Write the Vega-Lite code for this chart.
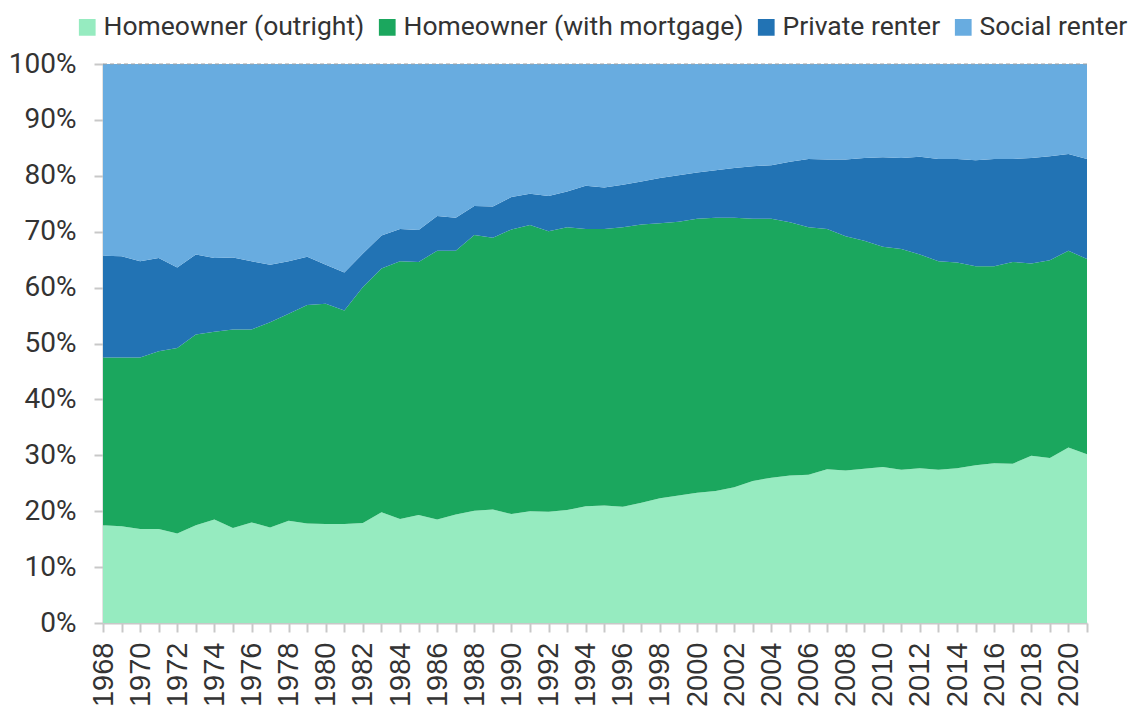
{
  "$schema": "https://vega.github.io/schema/vega-lite/v6.json",
  "width": 984,
  "height": 559,
  "autosize": {"type": "none"},
  "padding": {"left": 103, "top": 64, "right": 48, "bottom": 84},
  "background": "white",
  "config": {
    "view": {"stroke": null},
    "font": "Roboto"
  },
  "layer": [
    {
      "data": {
        "values": [
          {"year": 1968, "tenure": "Homeowner (outright)", "share": 17.5},
          {"year": 1968, "tenure": "Homeowner (with mortgage)", "share": 30.0},
          {"year": 1968, "tenure": "Private renter", "share": 18.2},
          {"year": 1968, "tenure": "Social renter", "share": 34.3},
          {"year": 1969, "tenure": "Homeowner (outright)", "share": 17.3},
          {"year": 1969, "tenure": "Homeowner (with mortgage)", "share": 30.2},
          {"year": 1969, "tenure": "Private renter", "share": 18.1},
          {"year": 1969, "tenure": "Social renter", "share": 34.4},
          {"year": 1970, "tenure": "Homeowner (outright)", "share": 16.8},
          {"year": 1970, "tenure": "Homeowner (with mortgage)", "share": 30.7},
          {"year": 1970, "tenure": "Private renter", "share": 17.2},
          {"year": 1970, "tenure": "Social renter", "share": 35.3},
          {"year": 1971, "tenure": "Homeowner (outright)", "share": 16.8},
          {"year": 1971, "tenure": "Homeowner (with mortgage)", "share": 31.8},
          {"year": 1971, "tenure": "Private renter", "share": 16.7},
          {"year": 1971, "tenure": "Social renter", "share": 34.7},
          {"year": 1972, "tenure": "Homeowner (outright)", "share": 16.0},
          {"year": 1972, "tenure": "Homeowner (with mortgage)", "share": 33.2},
          {"year": 1972, "tenure": "Private renter", "share": 14.4},
          {"year": 1972, "tenure": "Social renter", "share": 36.4},
          {"year": 1973, "tenure": "Homeowner (outright)", "share": 17.5},
          {"year": 1973, "tenure": "Homeowner (with mortgage)", "share": 34.1},
          {"year": 1973, "tenure": "Private renter", "share": 14.3},
          {"year": 1973, "tenure": "Social renter", "share": 34.1},
          {"year": 1974, "tenure": "Homeowner (outright)", "share": 18.5},
          {"year": 1974, "tenure": "Homeowner (with mortgage)", "share": 33.6},
          {"year": 1974, "tenure": "Private renter", "share": 13.2},
          {"year": 1974, "tenure": "Social renter", "share": 34.7},
          {"year": 1975, "tenure": "Homeowner (outright)", "share": 17.0},
          {"year": 1975, "tenure": "Homeowner (with mortgage)", "share": 35.5},
          {"year": 1975, "tenure": "Private renter", "share": 12.9},
          {"year": 1975, "tenure": "Social renter", "share": 34.6},
          {"year": 1976, "tenure": "Homeowner (outright)", "share": 18.0},
          {"year": 1976, "tenure": "Homeowner (with mortgage)", "share": 34.5},
          {"year": 1976, "tenure": "Private renter", "share": 12.2},
          {"year": 1976, "tenure": "Social renter", "share": 35.3},
          {"year": 1977, "tenure": "Homeowner (outright)", "share": 17.1},
          {"year": 1977, "tenure": "Homeowner (with mortgage)", "share": 36.7},
          {"year": 1977, "tenure": "Private renter", "share": 10.3},
          {"year": 1977, "tenure": "Social renter", "share": 35.9},
          {"year": 1978, "tenure": "Homeowner (outright)", "share": 18.3},
          {"year": 1978, "tenure": "Homeowner (with mortgage)", "share": 37.0},
          {"year": 1978, "tenure": "Private renter", "share": 9.4},
          {"year": 1978, "tenure": "Social renter", "share": 35.3},
          {"year": 1979, "tenure": "Homeowner (outright)", "share": 17.8},
          {"year": 1979, "tenure": "Homeowner (with mortgage)", "share": 39.1},
          {"year": 1979, "tenure": "Private renter", "share": 8.6},
          {"year": 1979, "tenure": "Social renter", "share": 34.5},
          {"year": 1980, "tenure": "Homeowner (outright)", "share": 17.7},
          {"year": 1980, "tenure": "Homeowner (with mortgage)", "share": 39.4},
          {"year": 1980, "tenure": "Private renter", "share": 7.0},
          {"year": 1980, "tenure": "Social renter", "share": 35.9},
          {"year": 1981, "tenure": "Homeowner (outright)", "share": 17.7},
          {"year": 1981, "tenure": "Homeowner (with mortgage)", "share": 38.2},
          {"year": 1981, "tenure": "Private renter", "share": 6.8},
          {"year": 1981, "tenure": "Social renter", "share": 37.3},
          {"year": 1982, "tenure": "Homeowner (outright)", "share": 17.9},
          {"year": 1982, "tenure": "Homeowner (with mortgage)", "share": 42.2},
          {"year": 1982, "tenure": "Private renter", "share": 6.0},
          {"year": 1982, "tenure": "Social renter", "share": 33.9},
          {"year": 1983, "tenure": "Homeowner (outright)", "share": 19.8},
          {"year": 1983, "tenure": "Homeowner (with mortgage)", "share": 43.6},
          {"year": 1983, "tenure": "Private renter", "share": 5.9},
          {"year": 1983, "tenure": "Social renter", "share": 30.7},
          {"year": 1984, "tenure": "Homeowner (outright)", "share": 18.6},
          {"year": 1984, "tenure": "Homeowner (with mortgage)", "share": 46.1},
          {"year": 1984, "tenure": "Private renter", "share": 5.8},
          {"year": 1984, "tenure": "Social renter", "share": 29.5},
          {"year": 1985, "tenure": "Homeowner (outright)", "share": 19.3},
          {"year": 1985, "tenure": "Homeowner (with mortgage)", "share": 45.3},
          {"year": 1985, "tenure": "Private renter", "share": 5.7},
          {"year": 1985, "tenure": "Social renter", "share": 29.7},
          {"year": 1986, "tenure": "Homeowner (outright)", "share": 18.5},
          {"year": 1986, "tenure": "Homeowner (with mortgage)", "share": 48.1},
          {"year": 1986, "tenure": "Private renter", "share": 6.2},
          {"year": 1986, "tenure": "Social renter", "share": 27.2},
          {"year": 1987, "tenure": "Homeowner (outright)", "share": 19.4},
          {"year": 1987, "tenure": "Homeowner (with mortgage)", "share": 47.2},
          {"year": 1987, "tenure": "Private renter", "share": 5.9},
          {"year": 1987, "tenure": "Social renter", "share": 27.5},
          {"year": 1988, "tenure": "Homeowner (outright)", "share": 20.1},
          {"year": 1988, "tenure": "Homeowner (with mortgage)", "share": 49.3},
          {"year": 1988, "tenure": "Private renter", "share": 5.2},
          {"year": 1988, "tenure": "Social renter", "share": 25.4},
          {"year": 1989, "tenure": "Homeowner (outright)", "share": 20.3},
          {"year": 1989, "tenure": "Homeowner (with mortgage)", "share": 48.6},
          {"year": 1989, "tenure": "Private renter", "share": 5.6},
          {"year": 1989, "tenure": "Social renter", "share": 25.5},
          {"year": 1990, "tenure": "Homeowner (outright)", "share": 19.5},
          {"year": 1990, "tenure": "Homeowner (with mortgage)", "share": 50.9},
          {"year": 1990, "tenure": "Private renter", "share": 5.8},
          {"year": 1990, "tenure": "Social renter", "share": 23.8},
          {"year": 1991, "tenure": "Homeowner (outright)", "share": 20.0},
          {"year": 1991, "tenure": "Homeowner (with mortgage)", "share": 51.2},
          {"year": 1991, "tenure": "Private renter", "share": 5.6},
          {"year": 1991, "tenure": "Social renter", "share": 23.2},
          {"year": 1992, "tenure": "Homeowner (outright)", "share": 19.9},
          {"year": 1992, "tenure": "Homeowner (with mortgage)", "share": 50.2},
          {"year": 1992, "tenure": "Private renter", "share": 6.3},
          {"year": 1992, "tenure": "Social renter", "share": 23.6},
          {"year": 1993, "tenure": "Homeowner (outright)", "share": 20.2},
          {"year": 1993, "tenure": "Homeowner (with mortgage)", "share": 50.6},
          {"year": 1993, "tenure": "Private renter", "share": 6.4},
          {"year": 1993, "tenure": "Social renter", "share": 22.8},
          {"year": 1994, "tenure": "Homeowner (outright)", "share": 20.9},
          {"year": 1994, "tenure": "Homeowner (with mortgage)", "share": 49.6},
          {"year": 1994, "tenure": "Private renter", "share": 7.7},
          {"year": 1994, "tenure": "Social renter", "share": 21.8},
          {"year": 1995, "tenure": "Homeowner (outright)", "share": 21.0},
          {"year": 1995, "tenure": "Homeowner (with mortgage)", "share": 49.5},
          {"year": 1995, "tenure": "Private renter", "share": 7.4},
          {"year": 1995, "tenure": "Social renter", "share": 22.1},
          {"year": 1996, "tenure": "Homeowner (outright)", "share": 20.8},
          {"year": 1996, "tenure": "Homeowner (with mortgage)", "share": 50.0},
          {"year": 1996, "tenure": "Private renter", "share": 7.6},
          {"year": 1996, "tenure": "Social renter", "share": 21.6},
          {"year": 1997, "tenure": "Homeowner (outright)", "share": 21.5},
          {"year": 1997, "tenure": "Homeowner (with mortgage)", "share": 49.8},
          {"year": 1997, "tenure": "Private renter", "share": 7.7},
          {"year": 1997, "tenure": "Social renter", "share": 21.0},
          {"year": 1998, "tenure": "Homeowner (outright)", "share": 22.3},
          {"year": 1998, "tenure": "Homeowner (with mortgage)", "share": 49.2},
          {"year": 1998, "tenure": "Private renter", "share": 8.1},
          {"year": 1998, "tenure": "Social renter", "share": 20.4},
          {"year": 1999, "tenure": "Homeowner (outright)", "share": 22.8},
          {"year": 1999, "tenure": "Homeowner (with mortgage)", "share": 49.0},
          {"year": 1999, "tenure": "Private renter", "share": 8.3},
          {"year": 1999, "tenure": "Social renter", "share": 19.9},
          {"year": 2000, "tenure": "Homeowner (outright)", "share": 23.3},
          {"year": 2000, "tenure": "Homeowner (with mortgage)", "share": 49.0},
          {"year": 2000, "tenure": "Private renter", "share": 8.3},
          {"year": 2000, "tenure": "Social renter", "share": 19.4},
          {"year": 2001, "tenure": "Homeowner (outright)", "share": 23.6},
          {"year": 2001, "tenure": "Homeowner (with mortgage)", "share": 48.9},
          {"year": 2001, "tenure": "Private renter", "share": 8.5},
          {"year": 2001, "tenure": "Social renter", "share": 19.0},
          {"year": 2002, "tenure": "Homeowner (outright)", "share": 24.3},
          {"year": 2002, "tenure": "Homeowner (with mortgage)", "share": 48.2},
          {"year": 2002, "tenure": "Private renter", "share": 8.9},
          {"year": 2002, "tenure": "Social renter", "share": 18.6},
          {"year": 2003, "tenure": "Homeowner (outright)", "share": 25.4},
          {"year": 2003, "tenure": "Homeowner (with mortgage)", "share": 46.9},
          {"year": 2003, "tenure": "Private renter", "share": 9.4},
          {"year": 2003, "tenure": "Social renter", "share": 18.3},
          {"year": 2004, "tenure": "Homeowner (outright)", "share": 26.0},
          {"year": 2004, "tenure": "Homeowner (with mortgage)", "share": 46.3},
          {"year": 2004, "tenure": "Private renter", "share": 9.6},
          {"year": 2004, "tenure": "Social renter", "share": 18.1},
          {"year": 2005, "tenure": "Homeowner (outright)", "share": 26.4},
          {"year": 2005, "tenure": "Homeowner (with mortgage)", "share": 45.3},
          {"year": 2005, "tenure": "Private renter", "share": 10.8},
          {"year": 2005, "tenure": "Social renter", "share": 17.5},
          {"year": 2006, "tenure": "Homeowner (outright)", "share": 26.5},
          {"year": 2006, "tenure": "Homeowner (with mortgage)", "share": 44.3},
          {"year": 2006, "tenure": "Private renter", "share": 12.2},
          {"year": 2006, "tenure": "Social renter", "share": 17.0},
          {"year": 2007, "tenure": "Homeowner (outright)", "share": 27.5},
          {"year": 2007, "tenure": "Homeowner (with mortgage)", "share": 43.0},
          {"year": 2007, "tenure": "Private renter", "share": 12.4},
          {"year": 2007, "tenure": "Social renter", "share": 17.1},
          {"year": 2008, "tenure": "Homeowner (outright)", "share": 27.3},
          {"year": 2008, "tenure": "Homeowner (with mortgage)", "share": 41.9},
          {"year": 2008, "tenure": "Private renter", "share": 13.7},
          {"year": 2008, "tenure": "Social renter", "share": 17.1},
          {"year": 2009, "tenure": "Homeowner (outright)", "share": 27.6},
          {"year": 2009, "tenure": "Homeowner (with mortgage)", "share": 40.8},
          {"year": 2009, "tenure": "Private renter", "share": 14.8},
          {"year": 2009, "tenure": "Social renter", "share": 16.8},
          {"year": 2010, "tenure": "Homeowner (outright)", "share": 27.9},
          {"year": 2010, "tenure": "Homeowner (with mortgage)", "share": 39.4},
          {"year": 2010, "tenure": "Private renter", "share": 16.0},
          {"year": 2010, "tenure": "Social renter", "share": 16.7},
          {"year": 2011, "tenure": "Homeowner (outright)", "share": 27.4},
          {"year": 2011, "tenure": "Homeowner (with mortgage)", "share": 39.5},
          {"year": 2011, "tenure": "Private renter", "share": 16.3},
          {"year": 2011, "tenure": "Social renter", "share": 16.8},
          {"year": 2012, "tenure": "Homeowner (outright)", "share": 27.7},
          {"year": 2012, "tenure": "Homeowner (with mortgage)", "share": 38.2},
          {"year": 2012, "tenure": "Private renter", "share": 17.5},
          {"year": 2012, "tenure": "Social renter", "share": 16.6},
          {"year": 2013, "tenure": "Homeowner (outright)", "share": 27.4},
          {"year": 2013, "tenure": "Homeowner (with mortgage)", "share": 37.3},
          {"year": 2013, "tenure": "Private renter", "share": 18.3},
          {"year": 2013, "tenure": "Social renter", "share": 17.0},
          {"year": 2014, "tenure": "Homeowner (outright)", "share": 27.7},
          {"year": 2014, "tenure": "Homeowner (with mortgage)", "share": 36.8},
          {"year": 2014, "tenure": "Private renter", "share": 18.5},
          {"year": 2014, "tenure": "Social renter", "share": 17.0},
          {"year": 2015, "tenure": "Homeowner (outright)", "share": 28.2},
          {"year": 2015, "tenure": "Homeowner (with mortgage)", "share": 35.6},
          {"year": 2015, "tenure": "Private renter", "share": 19.0},
          {"year": 2015, "tenure": "Social renter", "share": 17.2},
          {"year": 2016, "tenure": "Homeowner (outright)", "share": 28.6},
          {"year": 2016, "tenure": "Homeowner (with mortgage)", "share": 35.2},
          {"year": 2016, "tenure": "Private renter", "share": 19.2},
          {"year": 2016, "tenure": "Social renter", "share": 17.0},
          {"year": 2017, "tenure": "Homeowner (outright)", "share": 28.5},
          {"year": 2017, "tenure": "Homeowner (with mortgage)", "share": 36.1},
          {"year": 2017, "tenure": "Private renter", "share": 18.4},
          {"year": 2017, "tenure": "Social renter", "share": 17.0},
          {"year": 2018, "tenure": "Homeowner (outright)", "share": 29.9},
          {"year": 2018, "tenure": "Homeowner (with mortgage)", "share": 34.4},
          {"year": 2018, "tenure": "Private renter", "share": 18.9},
          {"year": 2018, "tenure": "Social renter", "share": 16.8},
          {"year": 2019, "tenure": "Homeowner (outright)", "share": 29.5},
          {"year": 2019, "tenure": "Homeowner (with mortgage)", "share": 35.4},
          {"year": 2019, "tenure": "Private renter", "share": 18.6},
          {"year": 2019, "tenure": "Social renter", "share": 16.5},
          {"year": 2020, "tenure": "Homeowner (outright)", "share": 31.4},
          {"year": 2020, "tenure": "Homeowner (with mortgage)", "share": 35.2},
          {"year": 2020, "tenure": "Private renter", "share": 17.3},
          {"year": 2020, "tenure": "Social renter", "share": 16.1},
          {"year": 2021, "tenure": "Homeowner (outright)", "share": 30.2},
          {"year": 2021, "tenure": "Homeowner (with mortgage)", "share": 34.9},
          {"year": 2021, "tenure": "Private renter", "share": 17.9},
          {"year": 2021, "tenure": "Social renter", "share": 17.0}
        ]
      },
      "mark": {"type": "area"},
      "encoding": {
        "x": {
          "field": "year",
          "type": "quantitative",
          "scale": {"domain": [1968, 2021], "nice": false, "zero": false},
          "axis": {
            "title": null,
            "grid": false,
            "values": [1968, 1969, 1970, 1971, 1972, 1973, 1974, 1975, 1976, 1977, 1978, 1979, 1980, 1981, 1982, 1983, 1984, 1985, 1986, 1987, 1988, 1989, 1990, 1991, 1992, 1993, 1994, 1995, 1996, 1997, 1998, 1999, 2000, 2001, 2002, 2003, 2004, 2005, 2006, 2007, 2008, 2009, 2010, 2011, 2012, 2013, 2014, 2015, 2016, 2017, 2018, 2019, 2020, 2021],
            "labelExpr": "datum.value % 2 == 0 ? datum.value : ''",
            "labelAngle": 270,
            "labelAlign": "right",
            "labelBaseline": "middle",
            "labelFont": "Liberation Sans Narrow, Liberation Sans",
            "labelFontSize": 29,
            "labelColor": "#333333",
            "labelPadding": 10,
            "labelOverlap": false,
            "labelFlush": false,
            "domainColor": "#c8c8c8",
            "domainWidth": 2,
            "tickColor": "#c8c8c8",
            "tickWidth": 2,
            "tickSize": 9
          }
        },
        "y": {
          "field": "share",
          "type": "quantitative",
          "stack": "zero",
          "scale": {"domain": [0, 100], "nice": false},
          "axis": {
            "title": null,
            "grid": false,
            "values": [0, 10, 20, 30, 40, 50, 60, 70, 80, 90, 100],
            "labelExpr": "datum.value + '%'",
            "labelFont": "Roboto",
            "labelFontSize": 28,
            "labelColor": "#333333",
            "labelPadding": 18,
            "domainColor": "#c8c8c8",
            "domainWidth": 2,
            "tickColor": "#c8c8c8",
            "tickWidth": 2,
            "tickSize": 9
          }
        },
        "color": {
          "field": "tenure",
          "type": "nominal",
          "sort": ["Homeowner (outright)", "Homeowner (with mortgage)", "Private renter", "Social renter"],
          "scale": {
            "domain": ["Homeowner (outright)", "Homeowner (with mortgage)", "Private renter", "Social renter"],
            "range": ["#96ebc0", "#1ba75e", "#2273b4", "#68ace0"]
          },
          "legend": {
            "title": null,
            "orient": "none",
            "direction": "horizontal",
            "legendX": -29,
            "legendY": -50,
            "symbolType": "square",
            "symbolSize": 280,
            "symbolStrokeWidth": 0,
            "symbolOpacity": 1,
            "labelFont": "Roboto",
            "labelFontSize": 26.5,
            "labelColor": "#333333",
            "labelOffset": 3,
            "columnPadding": 9,
            "labelLimit": 450
          }
        },
        "order": {"field": "tenure", "sort": "ascending"}
      }
    },
    {
      "data": {"values": [{"top": 100}]},
      "mark": {"type": "rule", "color": "#a0a0a0", "strokeDash": [4, 3], "strokeWidth": 1},
      "encoding": {
        "y": {"field": "top", "type": "quantitative"}
      }
    }
  ]
}
